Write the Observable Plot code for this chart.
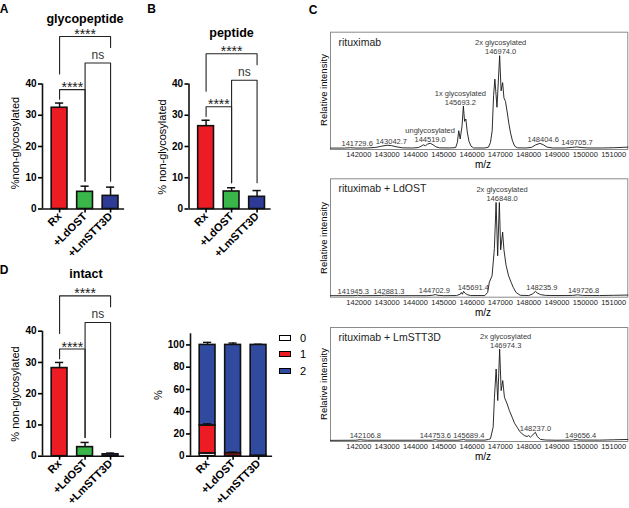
<!DOCTYPE html>
<html><head><meta charset="utf-8">
<script src="https://cdn.jsdelivr.net/npm/d3@7"></script>
<script src="https://cdn.jsdelivr.net/npm/@observablehq/plot@0.6"></script>
<style>
body{margin:0;background:#fff;}
#fig{position:relative;width:629px;height:508px;overflow:hidden;background:#fff;font-family:"Liberation Sans",Arial,sans-serif;color:#000;}
.t{position:absolute;white-space:nowrap;line-height:1;transform:translate(-50%,-50%);}
.v{position:absolute;white-space:nowrap;line-height:1;transform:translate(-50%,-50%) rotate(-90deg);}
.sw{position:absolute;width:12px;height:6px;box-sizing:border-box;border:1.5px solid #000;}
</style></head><body><div id="fig"></div>
<script>
// ---------- data ----------
const groups = ["Rx", "+LdOST", "+LmSTT3D"];
const groupColors = ["#ED1C24", "#3AB54A", "#2E3B96"];

const glycoMean = [32.4, 5.5, 4.2];
const glycoErr  = [1.5, 1.8, 2.8];
const pepMean   = [26.5, 5.6, 3.9];
const pepErr    = [1.9, 1.2, 2.0];
const intactMean = [28.2, 2.9, 0.6];
const intactErr  = [1.8, 1.5, 0.4];

const sigPairs  = [[0, 1], [1, 2], [0, 2]];
const sigLabels = ["****", "ns", "****"];
const sigStops  = [["bar", "bar"], ["bar", "bar"], [0, 1]];

const barTicks = [0, 10, 20, 30, 40];
const shareTicks = [0, 20, 40, 60, 80, 100];

const glyLevels = ["0", "1", "2"];
const levelColors = ["#FFFFFF", "#ED1C24", "#2F4A9E"];
const share0 = [2.5, 0.3, 0.0];
const share1 = [25.1, 2.4, 0.4];
const share2 = [72.4, 97.3, 99.6];
const shareErr0 = [0.6, 0.4, 0.0];
const shareErr1 = [1.5, 1.0, 0.2];
const shareErr2 = [2.3, 1.7, 0.6];

const mzTicks = [142000, 143000, 144000, 145000, 146000, 147000, 148000, 149000, 150000, 151000];

const mzRituximab = [141000,141500,141700,141900,142300,142600,142800,143000,143150,143350,143550,143900,144100,144200,144280,144350,144430,144520,144620,144720,144850,145200,145420,145480,145530,145580,145645,145693,145735,145780,145830,145890,145960,146050,146450,146580,146650,146710,146760,146805,146880,146974,147025,147080,147125,147180,147240,147300,147360,147420,147500,147600,147900,148100,148250,148400,148520,148650,148850,149300,149550,149700,149850,150100,150600,151000,151300,151500];
const intRituximab = [1.2,1.2,1.5,1.2,1.3,1.8,2.8,3.6,3.3,2.2,1.4,1.3,1.6,2.8,4.0,3.2,4.6,5.3,4.1,2.3,1.4,1.3,1.6,6,16,9,20,37,24,26,15,7,3,1.3,1.3,2,6,16,46,60,36,80,50,57,44,41,32,22,14,8,3,1.4,1.3,1.8,4,5.2,4,2,1.3,1.3,1.8,2.2,1.7,1.3,1.3,1.5,1.8,2.0];

const mzLdOST = [141000,141800,141950,142100,142800,142900,143000,143400,144400,144600,144700,144800,145000,145450,145580,145620,145660,145700,145760,145850,145950,146450,146550,146610,146706,146788,146848,146904,146964,147010,147080,147125,147200,147290,147377,147460,147554,147700,148000,148120,148180,148236,148300,148420,148600,149000,149550,149730,149900,150500,151000,151500];
const intLdOST = [1.3,1.3,1.6,1.3,1.4,1.7,1.4,1.3,1.3,1.6,2.2,1.6,1.3,1.4,2.5,4,2.5,5,3.2,2,1.4,1.4,4,12.7,18,41,80,35,80,40,55,40,27,18,12.7,8,4,1.6,1.4,2.5,3.5,5,3.6,2.2,1.5,1.4,1.5,2.0,1.5,1.4,1.6,1.8];

const mzLmSTT3D = [141000,141900,142050,142150,142300,144600,144700,144800,145500,145640,145700,145760,146450,146580,146649,146744,146790,146850,146907,146974,147027,147083,147143,147238,147320,147415,147500,147592,147680,147768,147860,147945,148000,148061,148150,148237,148300,148414,148600,149000,149550,149660,149780,150500,151000,151500];
const intLmSTT3D = [1.0,1.1,1.6,1.3,1.1,1.1,1.6,1.2,1.1,1.5,1.9,1.3,1.2,1.8,2.4,12.5,38.8,63.6,35.9,81,44.6,53.4,38.8,33,27,21.3,16,12.5,9,6.7,5,4.4,5.2,3.8,6,8.1,4.5,1.8,1.3,1.1,1.3,1.8,1.3,1.2,1.5,1.8];

const peaksRituximab = ["141729.6", "143042.7", "144519.0", "145693.2", "146974.0", "148404.6", "149705.7"];
const tagsRituximab  = ["", "", "unglycosylated", "1x glycosylated", "2x glycosylated", "", ""];
const peaksLdOST = ["141945.3", "142881.3", "144702.9", "145691.4", "146848.0", "148235.9", "149726.8"];
const tagsLdOST  = ["", "", "", "", "2x glycosylated", "", ""];
const peaksLmSTT3D = ["142106.8", "144753.6", "145689.4", "146974.3", "148237.0", "149656.4"];
const tagsLmSTT3D  = ["", "", "", "2x glycosylated", "", ""];

// ---------- helpers ----------
const fig = document.getElementById("fig");
const FONT = '"Liberation Sans", Arial, sans-serif';
function place(el, left, top) {
  el.style.position = "absolute"; el.style.left = left + "px"; el.style.top = top + "px";
  fig.appendChild(el);
}
function label(txt, x, y, size, weight, vertical) {
  const d = document.createElement("div");
  d.className = vertical ? "v" : "t";
  d.textContent = txt;
  d.style.left = x + "px"; d.style.top = y + "px";
  d.style.fontSize = size + "px"; d.style.fontWeight = weight || "normal";
  fig.appendChild(d);
}
const XDOM = [-0.67, 2.55];
const FRAMEW = 82.1;
const HALF = 0.31, CAP = 0.16;

function barPanel({means, errs, width, height, mL, mT, mB}) {
  const rows = groups.map((g, i) => ({i, g, m: means[i], e: errs[i]}));
  const tops = rows.map(d => d.m + d.e);
  const base = d3.max(tops) + 4.3, step = 8.5, textH = 5;
  const legBar = i => (i === 0 ? tops[0] + 1.2 : d3.max(tops.slice(1)) + 1.6);
  const lines = [], texts = [];
  sigPairs.forEach(([a, b], t) => {
    const lvl = base + t * step;
    const stop = (x, spec) => spec === "bar" ? legBar(x) : base + spec * step + textH;
    lines.push({id: t, x: a, y: stop(a, sigStops[t][0])}, {id: t, x: a, y: lvl},
               {id: t, x: b, y: lvl}, {id: t, x: b, y: stop(b, sigStops[t][1])});
    texts.push({x: (a + b) / 2, y: lvl, s: sigLabels[t]});
  });
  return Plot.plot({
    width, height, marginLeft: mL, marginRight: width - mL - FRAMEW, marginTop: mT, marginBottom: mB,
    x: {domain: XDOM, axis: null},
    y: {domain: [0, 40], axis: null, label: null},
    color: {domain: groups, range: groupColors},
    style: {fontFamily: FONT, fontSize: "10px", fontWeight: "bold", background: "transparent", overflow: "visible"},
    marks: [
      Plot.rect(rows, {x1: d => d.i - HALF, x2: d => d.i + HALF, y1: 0, y2: "m", fill: "g", stroke: "#111", strokeWidth: 1.6}),
      Plot.ruleX(rows, {x: "i", y1: "m", y2: d => d.m + d.e, stroke: "#111", strokeWidth: 1.5}),
      Plot.ruleY(rows, {y: d => d.m + d.e, x1: d => d.i - CAP, x2: d => d.i + CAP, stroke: "#111", strokeWidth: 1.5}),
      Plot.ruleX([XDOM[0]], {y1: 0, y2: 40, stroke: "#111", strokeWidth: 1.6}),
      Plot.ruleY([0], {x1: XDOM[0], x2: XDOM[1], stroke: "#111", strokeWidth: 1.6}),
      Plot.axisY({ticks: barTicks, tickSize: 4, tickPadding: 2, strokeWidth: 1.6, fontWeight: "bold", fontSize: 10, label: null}),
      Plot.axisX({ticks: [0, 1, 2], tickFormat: i => groups[i], tickRotate: -45, tickSize: 4, tickPadding: 1.5, strokeWidth: 1.6, fontWeight: "bold", fontSize: 11, label: null}),
      Plot.line(lines, {x: "x", y: "y", z: "id", stroke: "#222", strokeWidth: 1.1}),
      Plot.text(texts.filter(d => d.s !== "ns"), {x: "x", y: "y", text: "s", lineAnchor: "bottom", dy: 2.5, fontSize: 14, fontWeight: "normal", fill: "#1a1a1a"}),
      Plot.text(texts.filter(d => d.s === "ns"), {x: "x", y: "y", text: "s", lineAnchor: "bottom", dy: -4.5, fontSize: 12, fontWeight: "normal", fill: "#333"})
    ]
  });
}

function sharePanel({width, height, mL, mT, mB}) {
  const shares = [share0, share1, share2], errsAll = [shareErr0, shareErr1, shareErr2];
  const segs = [];
  groups.forEach((g, i) => {
    let acc = 0;
    glyLevels.forEach((k, j) => {
      const v = shares[j][i];
      segs.push({i, k, y1: acc, y2: acc + v, e: errsAll[j][i]});
      acc += v;
    });
  });
  const errSegs = segs.filter(d => d.e > 0 && d.y2 - d.y1 > 0);
  return Plot.plot({
    width, height, marginLeft: mL, marginRight: width - mL - FRAMEW, marginTop: mT, marginBottom: mB,
    x: {domain: XDOM, axis: null},
    y: {domain: [0, 110], axis: null, label: null},
    color: {domain: glyLevels, range: levelColors},
    style: {fontFamily: FONT, fontSize: "10px", fontWeight: "bold", background: "transparent", overflow: "visible"},
    marks: [
      Plot.rect(segs.filter(d => d.y2 > d.y1), {x1: d => d.i - HALF, x2: d => d.i + HALF, y1: "y1", y2: "y2", fill: "k", stroke: "#111", strokeWidth: 1.6}),
      Plot.ruleX(errSegs, {x: "i", y1: "y2", y2: d => d.y2 + d.e, stroke: "#111", strokeWidth: 1.4}),
      Plot.ruleY(errSegs, {y: d => d.y2 + d.e, x1: d => d.i - CAP, x2: d => d.i + CAP, stroke: "#111", strokeWidth: 1.4}),
      Plot.ruleX([XDOM[0]], {y1: 0, y2: 110, stroke: "#111", strokeWidth: 1.6}),
      Plot.ruleY([0], {x1: XDOM[0], x2: XDOM[1], stroke: "#111", strokeWidth: 1.6}),
      Plot.axisY({ticks: shareTicks, tickSize: 4, tickPadding: 2, strokeWidth: 1.6, fontWeight: "bold", fontSize: 10, label: null}),
      Plot.axisX({ticks: [0, 1, 2], tickFormat: i => groups[i], tickRotate: -45, tickSize: 4, tickPadding: 1.5, strokeWidth: 1.6, fontWeight: "bold", fontSize: 11, label: null})
    ]
  });
}

// label nudges (px) keep neighbouring peak labels apart as in the original figure
function specPanel({mz, inten, peaks, tags, nudges, title, width, height, mT, mB}) {
  const pts = mz.map((m, i) => ({m, v: inten[i]}));
  const lab = peaks.map((p, i) => {
    const m = parseFloat(p);
    const h = d3.max(pts.filter(d => Math.abs(d.m - m) <= 130), d => d.v) || 1.2;
    return {m, h, n: nudges[i], s: tags[i] ? tags[i] + "\n" + p : p};
  });
  return Plot.plot({
    width, height, marginLeft: 12, marginRight: width - 12 - 297.3, marginTop: mT, marginBottom: mB,
    x: {domain: [141000, 151500], axis: null, label: null},
    y: {domain: [0, 100], axis: null, label: null},
    style: {fontFamily: FONT, fontSize: "7.5px", background: "transparent", overflow: "visible", color: "#222"},
    marks: [
      Plot.frame({stroke: "#8a8a8a", strokeWidth: 1}),
      Plot.line(pts, {x: "m", y: "v", stroke: "#151515", strokeWidth: 0.9}),
      Plot.axisX({ticks: mzTicks, tickFormat: d3.format("d"), tickSize: 0, tickPadding: 2.5, fontSize: 7.5, fill: "#222", label: null}),
      ...lab.map(d => Plot.text([d], {x: "m", y: "h", text: "s", lineAnchor: "bottom", lineHeight: 1.2, dx: d.n, dy: -1.5, fontSize: 7.5, fill: "#3a3a3a"})),
      Plot.text([title], {frameAnchor: "top-left", textAnchor: "start", lineAnchor: "middle", dx: 8, dy: 10, fontSize: 10.5, fill: "#222"})
    ]
  });
}

// ---------- layout ----------
place(barPanel({means: glycoMean, errs: glycoErr, width: 145, height: 260, mL: 42, mT: 83.5, mB: 51.5}), 0, 0);
place(barPanel({means: pepMean, errs: pepErr, width: 145, height: 260, mL: 43.5, mT: 83.5, mB: 51.5}), 145, 0);
place(barPanel({means: intactMean, errs: intactErr, width: 145, height: 258, mL: 42, mT: 80.7, mB: 52.3}), 0, 250);
place(sharePanel({width: 145, height: 258, mL: 45, mT: 83.3, mB: 52.3}), 145, 250);

place(specPanel({mz: mzRituximab, inten: intRituximab, peaks: peaksRituximab, tags: tagsRituximab, nudges: [6, 3, 0, -3, 1, 3, 0], title: "rituximab", width: 311, height: 150, mT: 11.7, mB: 21}), 318, 20);
place(specPanel({mz: mzLdOST, inten: intLdOST, peaks: peaksLdOST, tags: tagsLdOST, nudges: [-4, 5, -1, 10, 6, 6.5, 6], title: "rituximab + LdOST", width: 311, height: 150, mT: 8.3, mB: 23.3}), 318, 170);
place(specPanel({mz: mzLmSTT3D, inten: intLmSTT3D, peaks: peaksLmSTT3D, tags: tagsLmSTT3D, nudges: [3.5, -1.5, 5.5, 6, 0, 5], title: "rituximab + LmSTT3D", width: 311, height: 145, mT: 7, mB: 24}), 318, 320);

// panel letters and titles
label("A", 4, 8.5, 12, "bold");
label("B", 151.5, 8.5, 12, "bold");
label("C", 313, 10, 12, "bold");
label("D", 4, 269.5, 12, "bold");
label("glycopeptide", 85, 18.8, 12.5, "bold");
label("peptide", 231.5, 33, 12.5, "bold");
label("intact", 86, 274, 12.5, "bold");
// axis labels
label("%non-glycosylated", 15, 143, 11, "normal", true);
label("% non-glycosylated", 161.7, 147, 11, "normal", true);
label("% non-glycosylated", 15, 394, 11, "normal", true);
label("%", 158, 395, 11, "normal", true);
label("Relative intensity", 324, 90.3, 9.5, "normal", true);
label("Relative intensity", 324, 237.5, 9.5, "normal", true);
label("Relative intensity", 324, 384, 9.5, "normal", true);
label("m/z", 483, 164.5, 10, "normal");
label("m/z", 483, 313, 10, "normal");
label("m/z", 483, 456.5, 10, "normal");
// legend for stacked bars
glyLevels.forEach((k, j) => {
  const sw = document.createElement("div");
  sw.className = "sw"; sw.style.background = levelColors[j];
  sw.style.left = "279px"; sw.style.top = (334.5 + j * 16.5) + "px";
  fig.appendChild(sw);
  label(k, 303, 337.5 + j * 16.5, 11, "normal");
});
</script></body></html>
